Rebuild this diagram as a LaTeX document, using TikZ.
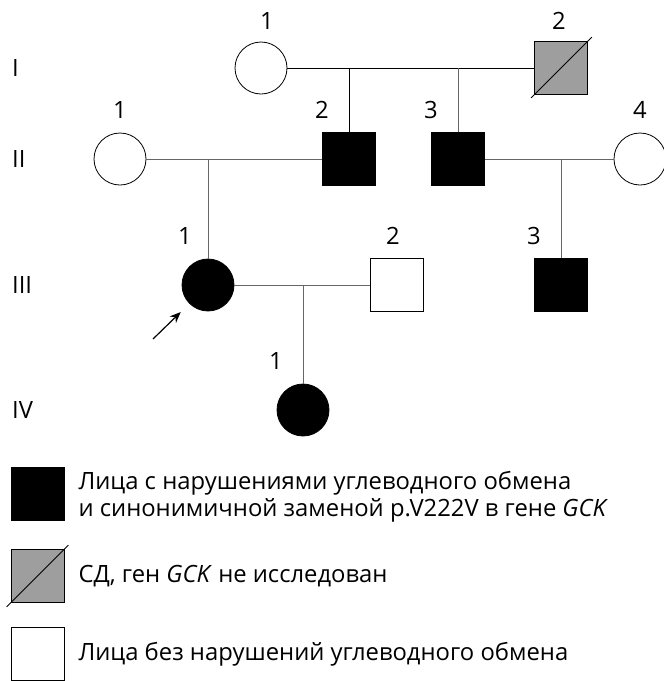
\documentclass[tikz,border=0pt]{standalone}
\usepackage{fontspec}
\setmainfont{Open Sans}
\usepackage{tikz}
\usetikzlibrary{shapes.geometric, calc, positioning, arrows.meta}

\begin{document}
\begin{tikzpicture}[x=1pt, y=-1pt, node distance=49pt, font=\fontsize{23.8}{27}\selectfont]

\tikzstyle{female} = [circle, minimum size=52pt, inner sep=0pt, draw=black, line width=0.8pt, fill=white]
\tikzstyle{male} = [rectangle, minimum size=53pt, inner sep=0pt, draw=black, line width=0.8pt, fill=white]
\tikzstyle{ill} = [fill=black]
\tikzstyle{unk} = [fill=black!38]
\tikzstyle{num} = [inner sep=0pt]
\tikzstyle{gen} = [anchor=west, inner sep=0pt]
\tikzstyle{keytext} = [inner sep=0pt, align=left]
\tikzstyle{link} = [line width=0.9pt, draw=black]
\tikzstyle{glink} = [line width=0.9pt, draw=black!60]
\tikzstyle{arrow} = [line width=1.2pt, -{Stealth[length=11pt, width=9pt]}]

\useasboundingbox (0,0) rectangle (664,681);

% generations
\node (gI) [gen] at (12,68) {I};
\node (gII) [gen] at (12,159) {II};
\node (gIII) [gen] at (12,285) {III};
\node (gIV) [gen] at (12,410) {IV};

% persons
\node (I1) [female] at (261,68) {};
\node (I2) [male, unk] at (561,68) {};
\node (II1) [female] at (120,159) {};
\node (II2) [male, ill] at (349,159) {};
\node (II3) [male, ill] at (458,159) {};
\node (II4) [female] at (640,159) {};
\node (III1) [female, ill] at (208,285) {};
\node (III2) [male] at (397,285) {};
\node (III3) [male, ill] at (561,285) {};
\node (IV1) [female, ill] at (303,410) {};

\node (nI1) [num, above of=I1, xshift=6, yshift=-2] {1};
\node (nI2) [num, above of=I2, xshift=-2, yshift=-2] {2};
\node (nII1) [num, above of=II1] {1};
\node (nII2) [num, above of=II2, xshift=-27] {2};
\node (nII3) [num, above of=II3, xshift=-27] {3};
\node (nII4) [num, above of=II4] {4};
\node (nIII1) [num, above of=III1, xshift=-23] {1};
\node (nIII2) [num, above of=III2, xshift=-4] {2};
\node (nIII3) [num, above of=III3, xshift=-27] {3};
\node (nIV1) [num, above of=IV1, xshift=-27] {1};

\draw [line width=0.8pt] ($(I2.south west)+(-3,3)$) -- ($(I2.north east)+(4,-4)$);

% lines
\draw [link] (I1) -- (I2);
\draw [link] (II2) -- (II2 |- I1);
\draw [glink] (II3) -- (II3 |- I1);
\draw [glink] (II1) -- (II2);
\draw [glink] (III1) -- (III1 |- II1);
\draw [glink] (II3) -- (II4);
\draw [glink] (III3) -- (III3 |- II3);
\draw [glink] (III1) -- (III2);
\draw [glink] (IV1) -- (IV1 |- III1);

\coordinate (proband) at (153,339);
\draw [arrow, shorten >=12pt] (proband) -- (III1.south west);

% legend
\node (key1) [male, ill] at (37.5,494) {};
\node (key2) [male, unk] at (37.5,576) {};
\node (key3) [male] at (37.5,654) {};
\draw [line width=0.8pt] ($(key2.south west)+(-4,4)$) -- ($(key2.north east)+(4,-4)$);

\node (txt1) [keytext, right=14pt of key1, yshift=-3] {Лица с нарушениями углеводного обмена\\и синонимичной заменой p.V222V в гене \textit{GCK}};
\node (txt2) [keytext, right=14pt of key2] {СД, ген \textit{GCK} не исследован};
\node (txt3) [keytext, right=14pt of key3] {Лица без нарушений углеводного обмена};
\end{tikzpicture}
\end{document}
